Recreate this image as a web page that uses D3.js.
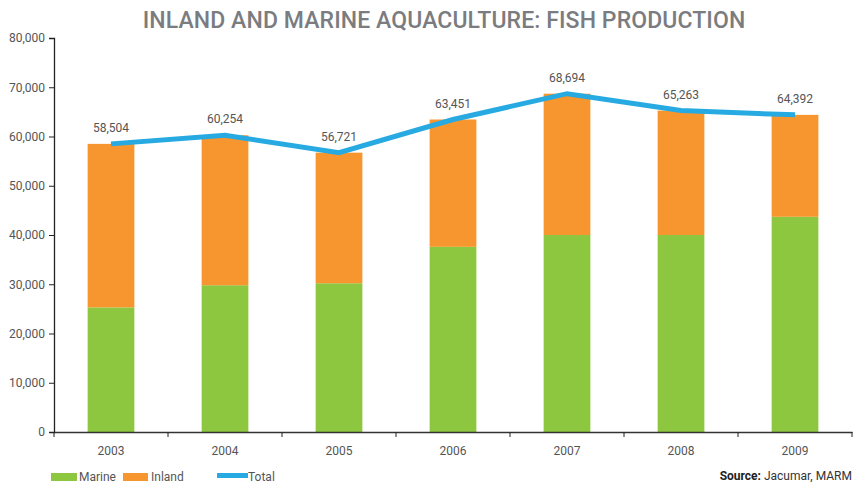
<!DOCTYPE html>
<html><head><meta charset="utf-8">
<script src="https://cdn.jsdelivr.net/npm/d3@7"></script>
<style>body{margin:0;background:#fff}svg{display:block}text{font-family:Roboto,"DejaVu Sans",sans-serif}</style>
</head><body><svg id="c" width="855" height="484"></svg>
<script>
const years = ["2003","2004","2005","2006","2007","2008","2009"];
const marine = [25300, 29800, 30200, 37600, 40000, 40000, 43700];
const total = [58504, 60254, 56721, 63451, 68694, 65263, 64392];
const yTicks = [0,10000,20000,30000,40000,50000,60000,70000,80000];

const svg = d3.select("#c");
const x = d3.scaleBand().domain(years).range([54, 852]).paddingInner(0.59).paddingOuter(0.295);
const xb = d3.scaleBand().domain(years).range([54, 852]);
const y = d3.scaleLinear().domain([0, 80000]).range([432, 38]);
const fmt = d3.format(",");
const green = "#8dc63f", orange = "#f7962e", blue = "#27aae1";

svg.append("text").attr("x", 444).attr("y", 28).attr("text-anchor","middle")
  .attr("font-size", 23).attr("font-weight", 500).attr("fill", "#7a7c7f")
  .attr("letter-spacing", 0.1).text("INLAND AND MARINE AQUACULTURE: FISH PRODUCTION");

// bars
const g = svg.append("g");
years.forEach((yr, i) => {
  g.append("rect").attr("x", x(yr)).attr("width", x.bandwidth())
    .attr("y", y(marine[i])).attr("height", y(0) - y(marine[i])).attr("fill", green);
  g.append("rect").attr("x", x(yr)).attr("width", x.bandwidth())
    .attr("y", y(total[i])).attr("height", y(marine[i]) - y(total[i])).attr("fill", orange);
});

// axes
const ya = svg.append("g").attr("transform","translate(54,0)")
  .call(d3.axisLeft(y).tickValues(yTicks).tickFormat(fmt).tickSize(5).tickPadding(4));
ya.select(".domain").attr("stroke","#222").attr("stroke-width",1.3);
ya.selectAll(".tick line").attr("stroke","#222");
ya.selectAll("text").attr("font-size",12).attr("fill","#555");

const xa = svg.append("g").attr("transform","translate(0,432)")
  .call(d3.axisBottom(xb).tickSize(0).tickPadding(14));
xa.select(".domain").attr("stroke","#333").attr("stroke-width",1.5);
xa.selectAll("text").attr("font-size",12).attr("fill","#555");
xa.selectAll(".bnd").data(years.concat(["end"])).enter().append("line")
  .attr("x1", (d,i)=> i < years.length ? xb(d) : 852)
  .attr("x2", (d,i)=> i < years.length ? xb(d) : 852)
  .attr("y1",0).attr("y2",5).attr("stroke","#222");

// line
const line = d3.line().x((d,i)=> x(years[i]) + x.bandwidth()/2).y(d=> y(d));
svg.append("path").datum(total).attr("d", line).attr("fill","none")
  .attr("stroke", blue).attr("stroke-width", 5).attr("stroke-linejoin","miter");

svg.selectAll(".lbl").data(total).enter().append("text")
  .attr("x",(d,i)=> x(years[i]) + x.bandwidth()/2).attr("y", d=> y(d) - 12)
  .attr("text-anchor","middle").attr("font-size",12).attr("fill","#555").text(fmt);

// legend
const lg = svg.append("g");
lg.append("rect").attr("x",51).attr("y",473).attr("width",26).attr("height",8).attr("fill",green);
lg.append("text").attr("x",79).attr("y",481).attr("font-size",12).attr("fill","#555").text("Marine");
lg.append("rect").attr("x",123).attr("y",473).attr("width",25).attr("height",8).attr("fill",orange);
lg.append("text").attr("x",151).attr("y",481).attr("font-size",12).attr("fill","#555").text("Inland");
lg.append("rect").attr("x",217).attr("y",473).attr("width",31).attr("height",5).attr("fill",blue);
lg.append("text").attr("x",248).attr("y",481).attr("font-size",12).attr("fill","#555").text("Total");

const src = svg.append("text").attr("x",852).attr("y",480).attr("text-anchor","end").attr("font-size",12).attr("fill","#333");
src.append("tspan").attr("font-weight","bold").attr("fill","#222").text("Source:");
src.append("tspan").text(" Jacumar, MARM");
</script></body></html>
